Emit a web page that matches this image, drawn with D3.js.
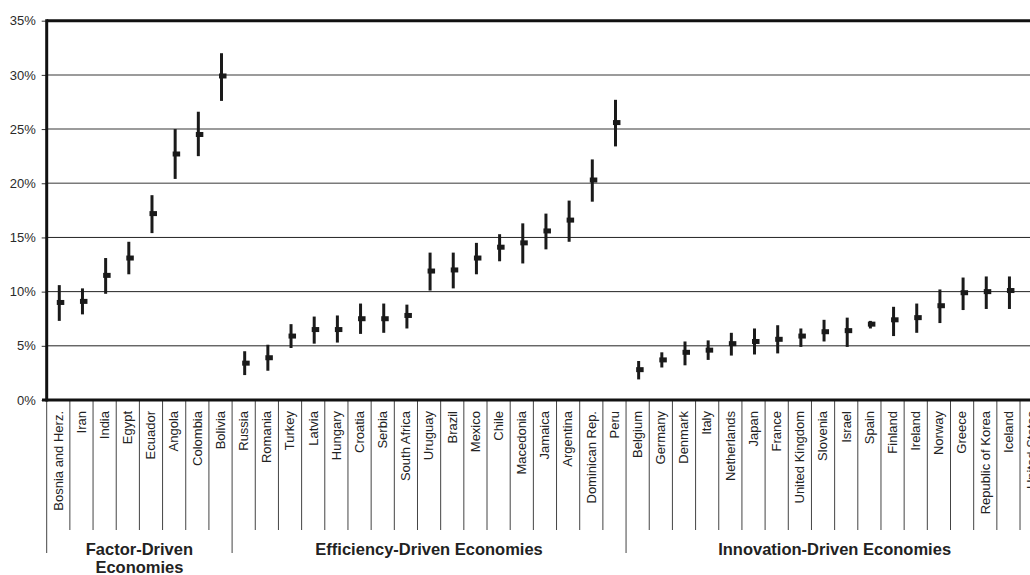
<!DOCTYPE html>
<html>
<head>
<meta charset="utf-8">
<script src="https://cdn.jsdelivr.net/npm/d3@7"></script>
<style>
  body { margin: 0; background: #fff; }
  svg { display: block; font-family: "Liberation Sans", Arial, sans-serif; }
</style>
</head>
<body>
<div id="root"></div>
<script>
const countries = [
  "Bosnia and Herz.", "Iran", "India", "Egypt", "Ecuador", "Angola", "Colombia", "Bolivia",
  "Russia", "Romania", "Turkey", "Latvia", "Hungary", "Croatia", "Serbia", "South Africa",
  "Uruguay", "Brazil", "Mexico", "Chile", "Macedonia", "Jamaica", "Argentina", "Dominican Rep.", "Peru",
  "Belgium", "Germany", "Denmark", "Italy", "Netherlands", "Japan", "France", "United Kingdom",
  "Slovenia", "Israel", "Spain", "Finland", "Ireland", "Norway", "Greece", "Republic of Korea",
  "Iceland", "United States"
];

// point estimate and interval, in percent
const mid = [
  9.0, 9.1, 11.5, 13.1, 17.2, 22.7, 24.5, 29.9,
  3.4, 3.9, 5.9, 6.5, 6.5, 7.5, 7.5, 7.8,
  11.9, 12.0, 13.1, 14.1, 14.5, 15.6, 16.6, 20.3, 25.6,
  2.8, 3.7, 4.4, 4.6, 5.2, 5.4, 5.6, 5.9,
  6.3, 6.4, 7.0, 7.4, 7.6, 8.7, 9.9, 10.0,
  10.1, 10.7
];
const low = [
  7.3, 7.9, 9.8, 11.6, 15.4, 20.4, 22.5, 27.6,
  2.3, 2.7, 4.8, 5.2, 5.3, 6.1, 6.2, 6.6,
  10.1, 10.3, 11.6, 12.8, 12.6, 13.9, 14.6, 18.3, 23.4,
  1.9, 3.0, 3.2, 3.7, 4.1, 4.2, 4.3, 4.9,
  5.4, 4.9, 6.6, 5.9, 6.2, 7.1, 8.3, 8.4,
  8.4, 9.3
];
const high = [
  10.6, 10.3, 13.1, 14.6, 18.9, 25.0, 26.6, 32.0,
  4.5, 5.1, 7.0, 7.7, 7.8, 8.9, 8.9, 8.8,
  13.6, 13.6, 14.5, 15.3, 16.3, 17.2, 18.4, 22.2, 27.7,
  3.6, 4.4, 5.4, 5.5, 6.2, 6.6, 6.9, 6.6,
  7.4, 7.6, 7.3, 8.6, 8.9, 10.2, 11.3, 11.4,
  11.4, 12.0
];

const groupNames = [["Factor-Driven", "Economies"], ["Efficiency-Driven Economies"], ["Innovation-Driven Economies"]];
const groupStart = [0, 8, 25];
const groupEnd = [8, 25, 43];
const yTicks = [0, 5, 10, 15, 20, 25, 30, 35];

const width = 1030;
const height = 575;

const svg = d3.select("#root")
  .append("svg")
  .attr("width", width)
  .attr("height", height);

// the plot runs a little past the right edge of the window, like the original
const x = d3.scaleBand()
  .domain(countries)
  .range([46.7, 1043.2])
  .padding(0);

const y = d3.scaleLinear()
  .domain([0, 35])
  .range([400, 20.7]);

const bw = x.bandwidth();
const edge = (i) => x.range()[0] + i * bw;

// Grid lines
svg.append("g")
  .selectAll("line")
  .data(yTicks.filter((d) => d > 0 && d < 35))
  .join("line")
  .attr("x1", 46.7)
  .attr("x2", width)
  .attr("y1", (d) => y(d))
  .attr("y2", (d) => y(d))
  .attr("stroke", (d) => (d >= 20 ? "#7a7a7a" : "#222"))
  .attr("stroke-width", (d) => (d >= 20 ? 1.5 : 1));

// Y axis
const yAxis = d3.axisLeft(y)
  .tickValues(yTicks)
  .tickSize(5)
  .tickPadding(6)
  .tickFormat((d) => d + "%");

const gy = svg.append("g")
  .attr("transform", "translate(46.7,0)")
  .call(yAxis);
gy.select(".domain").remove();
gy.selectAll(".tick line").attr("stroke", "#333");
gy.selectAll(".tick text")
  .attr("font-size", 13)
  .attr("fill", "#2a2a2a")
  .attr("font-family", "Liberation Sans, Arial, sans-serif");

// Category ticks below the axis
svg.append("g")
  .selectAll("line")
  .data(d3.range(1, countries.length).filter((i) => !groupStart.includes(i)))
  .join("line")
  .attr("x1", (i) => edge(i))
  .attr("x2", (i) => edge(i))
  .attr("y1", 400)
  .attr("y2", 530)
  .attr("stroke", "#444")
  .attr("stroke-width", 1);

// Group separators
svg.append("g")
  .selectAll("line")
  .data(groupStart)
  .join("line")
  .attr("x1", (i) => edge(i))
  .attr("x2", (i) => edge(i))
  .attr("y1", 400)
  .attr("y2", 553)
  .attr("stroke", "#444")
  .attr("stroke-width", 1);

// Frame: top, left, bottom
svg.append("line")
  .attr("x1", 46.7).attr("x2", width)
  .attr("y1", y(35)).attr("y2", y(35))
  .attr("stroke", "#111").attr("stroke-width", 3);
svg.append("line")
  .attr("x1", 46.7).attr("x2", 46.7)
  .attr("y1", y(35) - 1.5).attr("y2", y(0) + 1.5)
  .attr("stroke", "#111").attr("stroke-width", 3);
svg.append("line")
  .attr("x1", 42).attr("x2", width)
  .attr("y1", y(0)).attr("y2", y(0))
  .attr("stroke", "#111").attr("stroke-width", 3);

// Country labels
svg.append("g")
  .selectAll("text")
  .data(countries)
  .join("text")
  .attr("transform", (d) => `translate(${x(d) + bw / 2},411) rotate(-90)`)
  .attr("dy", "0.33em")
  .attr("text-anchor", "end")
  .attr("font-size", 13)
  .attr("fill", "#222")
  .text((d) => d);

// Group labels
groupNames.forEach((lines, gi) => {
  const cx = (edge(groupStart[gi]) + edge(groupEnd[gi])) / 2;
  const t = svg.append("text")
    .attr("x", cx)
    .attr("y", 555)
    .attr("text-anchor", "middle")
    .attr("font-size", 16.5)
    .attr("font-weight", "bold")
    .attr("fill", "#222");
  lines.forEach((line, li) => {
    t.append("tspan")
      .attr("x", cx)
      .attr("dy", li === 0 ? 0 : 18)
      .text(line);
  });
});

// Interval marks
const marks = svg.append("g").attr("fill", "#1a1a1a").attr("stroke", "#1a1a1a");

marks.selectAll("line")
  .data(countries)
  .join("line")
  .attr("x1", (d) => x(d) + bw / 2 + 1)
  .attr("x2", (d) => x(d) + bw / 2 + 1)
  .attr("y1", (d, i) => y(low[i]))
  .attr("y2", (d, i) => y(high[i]))
  .attr("stroke-width", 3);

marks.selectAll("rect")
  .data(countries)
  .join("rect")
  .attr("x", (d) => x(d) + bw / 2 - 1.5)
  .attr("y", (d, i) => y(mid[i]) - 2.5)
  .attr("width", 7.5)
  .attr("height", 5)
  .attr("stroke", "none");
</script>
</body>
</html>
